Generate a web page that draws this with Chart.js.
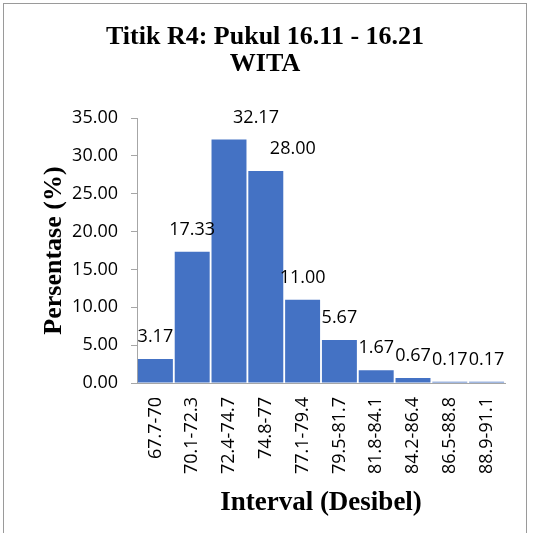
<!DOCTYPE html>
<html>
<head>
<meta charset="utf-8">
<script src="https://cdn.jsdelivr.net/npm/chart.js@4"></script>
<style>
  html, body { margin: 0; padding: 0; background: #fff; }
  #wrap { position: relative; width: 533px; height: 533px; }
  #frame {
    position: absolute; left: 3px; top: 3px; width: 524px; height: 540px;
    border: 1px solid #9a9a9a; box-sizing: border-box; pointer-events: none;
  }
  canvas { position: absolute; left: 0; top: 0; }
</style>
</head>
<body>
<div id="wrap">
  <canvas id="chart" width="533" height="533"></canvas>
  <div id="frame"></div>
</div>
<script>
// --- Data ---
const intervals = ['67.7-70', '70.1-72.3', '72.4-74.7', '74.8-77', '77.1-79.4',
                   '79.5-81.7', '81.8-84.1', '84.2-86.4', '86.5-88.8', '88.9-91.1'];
const percentages = [3.17, 17.33, 32.17, 28.00, 11.00, 5.67, 1.67, 0.67, 0.17, 0.17];
const yTicks = [0, 5, 10, 15, 20, 25, 30, 35];

const bodyFont = "'Open Sans', 'Noto Sans', sans-serif";
const serifFont = "'Liberation Serif', 'DejaVu Serif', serif";

// value labels above each bar (two of them were nudged right in the original)
const valueLabels = {
    id: 'valueLabels',
    afterDatasetsDraw(chart, args, opts) {
        const ctx = chart.ctx;
        const meta = chart.getDatasetMeta(0);
        ctx.save();
        ctx.font = '18px ' + bodyFont;
        ctx.fillStyle = '#000';
        ctx.textAlign = 'center';
        ctx.textBaseline = 'middle';
        meta.data.forEach((bar, i) => {
            const shift = (opts.shift && opts.shift[i]) || 0;
            ctx.fillText(percentages[i].toFixed(2), bar.x + shift, bar.y - 22);
        });
        ctx.restore();
    }
};

new Chart(document.getElementById('chart').getContext('2d'), {
    type: 'bar',
    data: {
        labels: intervals,
        datasets: [{
            data: percentages,
            backgroundColor: '#4472C4',
            borderWidth: 0,
            barPercentage: 0.95,
            categoryPercentage: 1.0
        }]
    },
    options: {
        responsive: false,
        animation: false,
        layout: { padding: { left: 25, right: 28, top: 10, bottom: 10 } },
        plugins: {
            legend: { display: false },
            tooltip: { enabled: false },
            title: {
                display: true,
                text: ['Titik R4: Pukul 16.11 - 16.21', 'WITA'],
                color: '#000',
                font: { family: serifFont, size: 26, weight: 'bold', lineHeight: 1.04 },
                padding: { top: 14, bottom: 40 }
            },
            valueLabels: { shift: [0, 0, 27, 27, 0, 0, 0, 0, 0, 0] }
        },
        scales: {
            x: {
                grid: { display: false },
                border: { display: true, color: '#a6a6a6', width: 1 },
                ticks: {
                    color: '#000',
                    font: { family: bodyFont, size: 18 },
                    minRotation: 90, maxRotation: 90,
                    autoSkip: false,
                    padding: 6
                },
                title: {
                    display: true,
                    text: 'Interval (Desibel)',
                    color: '#000',
                    font: { family: serifFont, size: 27, weight: 'bold' },
                    padding: { top: 4, bottom: 4 }
                },
                afterFit(s) { s.height = 140; }
            },
            y: {
                min: 0, max: 35,
                afterBuildTicks(s) { s.ticks = yTicks.map(v => ({ value: v })); },
                grid: { drawOnChartArea: false, drawTicks: true, tickLength: 6, color: '#a6a6a6' },
                border: { display: true, color: '#a6a6a6', width: 1 },
                ticks: {
                    color: '#000',
                    font: { family: bodyFont, size: 18 },
                    padding: 13,
                    callback: v => Number(v).toFixed(2)
                },
                title: {
                    display: true,
                    text: 'Persentase (%)',
                    color: '#000',
                    font: { family: serifFont, size: 26, weight: 'bold' },
                    padding: { top: 14, bottom: 4 }
                },
                afterFit(s) { s.width = 112; }
            }
        }
    },
    plugins: [valueLabels]
});
</script>
</body>
</html>
